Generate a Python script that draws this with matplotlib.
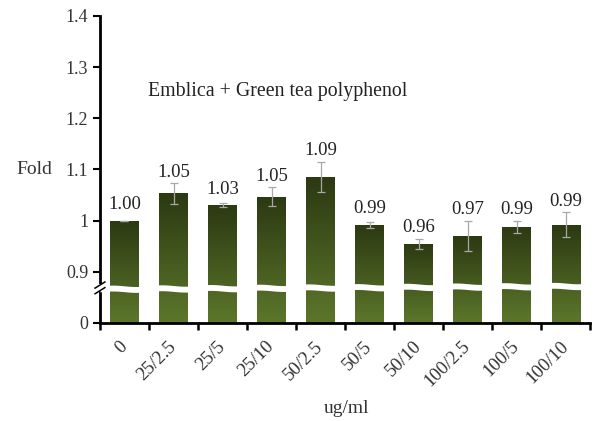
import numpy as np
import matplotlib
matplotlib.use("Agg")
import matplotlib.pyplot as plt
from matplotlib.colors import LinearSegmentedColormap

plt.rcParams['font.family'] = ['Liberation Serif', 'DejaVu Serif']

# data
doses = ['0', '25/2.5', '25/5', '25/10', '50/2.5', '50/5', '50/10', '100/2.5', '100/5', '100/10']
fold = [1.00, 1.053, 1.030, 1.047, 1.085, 0.992, 0.955, 0.970, 0.988, 0.992]
fold_err = [0.0, 0.020, 0.004, 0.018, 0.030, 0.006, 0.010, 0.030, 0.012, 0.024]
fold_labels = ['1.00', '1.05', '1.03', '1.05', '1.09', '0.99', '0.96', '0.97', '0.99', '0.99']

# axis break: "0" is drawn at 0.8, everything above 0.9 is real scale
base = 0.8
ytick_pos = [0.8, 0.9, 1.0, 1.1, 1.2, 1.3, 1.4]
ytick_lab = ['0', '0.9', '1', '1.1', '1.2', '1.3', '1.4']

fig = plt.figure(figsize=(5.95, 4.21), dpi=100)
ax = fig.add_axes([0.168, 0.233, 0.824, 0.729])

x = np.arange(len(doses))
width = 0.58
bars = ax.bar(x, np.array(fold) - base, bottom=base, width=width, color='none', edgecolor='none')

# gradient fill per bar
cmap = LinearSegmentedColormap.from_list('grn', ['#5c772b', '#2c3912'])
grad = np.linspace(0, 1, 256).reshape(-1, 1)
for b in bars:
    x0 = b.get_x()
    x1 = x0 + b.get_width()
    top = b.get_y() + b.get_height()
    im = ax.imshow(grad, extent=[x0, x1, base, top], origin='lower', aspect='auto',
                   cmap=cmap, zorder=2)
    im.set_clip_path(b)

# white break band across the bars
xs = np.linspace(-0.5, 9.5, 400)
wave = 0.0015 * np.sin((xs + 0.5) * 2 * np.pi)
ax.fill_between(xs, 0.861 + wave + 0.0006 * xs, 0.8725 + wave + 0.0006 * xs,
                color='white', zorder=3, lw=0)

# error bars
ax.errorbar(x, fold, yerr=fold_err, fmt='none', ecolor='#a8a8a8', elinewidth=0.9,
            capsize=3, capthick=0.9, zorder=4)

# value labels
for i in range(len(doses)):
    ypos = max(fold[i] + 0.031, fold[i] + fold_err[i] + 0.022)
    ax.text(x[i], ypos, fold_labels[i], ha='center', va='center', fontsize=13.5, color='#222222')

ax.set_xlim(-0.5, 9.5)
ax.set_ylim(0.8, 1.4)
ax.set_yticks(ytick_pos)
ax.set_yticklabels(ytick_lab)
ax.set_xticks(x)
ax.set_xticklabels(doses, rotation=45, ha='right', va='center', rotation_mode='anchor')
ax.set_xticks(np.arange(-0.5, 10, 1), minor=True)
ax.tick_params(axis='x', which='major', length=0, pad=15, labelsize=13.5, colors='#333333')
ax.tick_params(axis='x', which='minor', length=5, width=1.8, direction='out')
ax.tick_params(axis='y', length=5, width=1.5, direction='out', labelsize=13, colors='#333333')
ax.tick_params(axis='both', which='both', color='black')

for s in ['top', 'right']:
    ax.spines[s].set_visible(False)
ax.spines['left'].set_linewidth(2)
ax.spines['bottom'].set_linewidth(2)

# break marker on the y axis
ax.fill_between([-0.56, -0.44], [0.862, 0.862], [0.876, 0.876], color='white',
                zorder=5, clip_on=False, lw=0)
for dy in (0.0, 0.011):
    ax.plot([-0.6, -0.4], [0.857 + dy, 0.869 + dy], color='black', lw=1.1,
            clip_on=False, zorder=6)

ax.text(0.48, 1.253, 'Emblica + Green tea polyphenol', ha='left', va='center',
        fontsize=14.3, color='#222222')
fig.text(0.057, 0.597, 'Fold', ha='center', va='center', fontsize=14, color='#333333')
fig.text(0.583, 0.03, 'ug/ml', ha='center', va='center', fontsize=14, color='#333333')

fig.savefig('out.png', dpi=100)
